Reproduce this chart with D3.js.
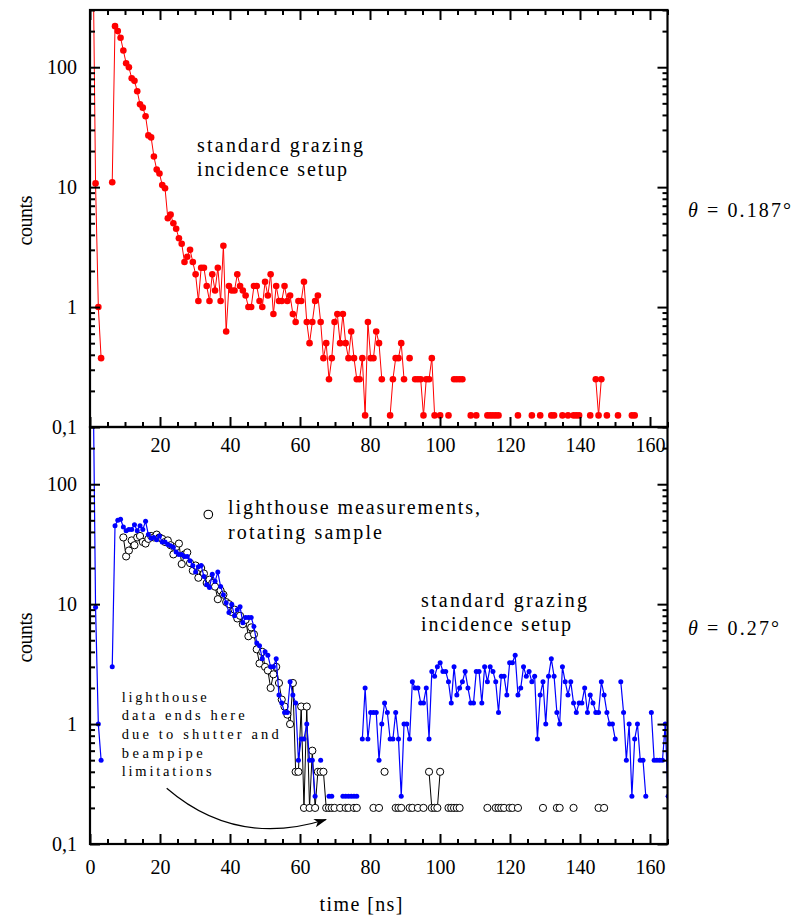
<!DOCTYPE html>
<html>
<head>
<meta charset="utf-8">
<script src="https://cdn.jsdelivr.net/npm/d3@7"></script>
<style>
  body { margin: 0; background: #fff; }
  svg { display: block; }
  text { font-family: "Liberation Serif", Tinos, "Times New Roman", "DejaVu Serif", serif; fill: #000; }
</style>
</head>
<body>
<svg id="chart" width="792" height="918"></svg>
<script>
// ---- data -------------------------------------------------------------
// time channels of the detector (ns per channel); counts per channel, 0 = empty
const binWidth = 0.794;
const timeDomain = [0, 165];
const countDomain = [0.1, 300];

const xTickValues = [0, 20, 40, 60, 80, 100, 120, 140, 160];
const xTickValuesUpper = [20, 40, 60, 80, 100, 120, 140, 160];
const yTickValues = [0.1, 1, 10, 100];
const yTickLabels = ["0,1", "1", "10", "100"];

// theta = 0.187 deg, standard grazing incidence
const redCounts = [
  0, 1500, 10.75, 1, 0.375, 0, 0, 0, 11, 220,
  200, 176, 138, 108, 100, 81, 77, 63, 49, 46,
  39, 27, 26, 18, 14, 13, 10.4, 9.8, 5.5, 5.9,
  5, 4.5, 3.75, 3.375, 2.375, 2.625, 3, 2.375, 1.875, 1.125,
  2.125, 2.125, 1.5, 1.125, 1.875, 1.375, 2.125, 1.125, 3.25, 0.625,
  1.5, 1.375, 1.375, 1.875, 1.5, 1.375, 1.25, 1, 1, 1.5,
  1.5, 1.125, 1, 1.625, 1.25, 1.875, 0.875, 1.5, 1.125, 1.125,
  1.5, 1.125, 1.25, 0.875, 0.75, 1.125, 1.125, 1.625, 0.75, 0.5,
  0.75, 1.125, 1.25, 0.75, 0.375, 0.5, 0.25, 0.375, 0.75, 0.875,
  0.5, 0.875, 0.5, 0.375, 0.625, 0.375, 0.25, 0.25, 0.375, 0.125,
  0.75, 0.375, 0.375, 0.625, 0.5, 0.25, 0, 0, 0.125, 0.25,
  0.375, 0.375, 0.5, 0.25, 0, 0.375, 0, 0.25, 0.25, 0.25,
  0.125, 0.25, 0.25, 0.375, 0.125, 0, 0.125, 0, 0, 0.125,
  0, 0.25, 0.25, 0.25, 0.25, 0, 0, 0.125, 0, 0.125,
  0, 0, 0, 0.125, 0.125, 0.125, 0.125, 0.125, 0, 0,
  0, 0, 0, 0, 0.125, 0, 0, 0, 0, 0.125,
  0, 0, 0.125, 0, 0, 0, 0.125, 0.125, 0, 0,
  0.125, 0, 0.125, 0, 0.125, 0.125, 0.125, 0, 0, 0,
  0.125, 0, 0.25, 0.125, 0.25, 0, 0.125, 0, 0, 0,
  0.125, 0, 0, 0, 0, 0.125, 0.125
];

// theta = 0.27 deg, standard grazing incidence
const blueCounts = [
  0, 1500, 9.4, 1, 0.5, 0, 0, 0, 3, 45,
  50, 51, 44, 41, 42, 42, 46, 41, 45, 42,
  49, 38, 35.5, 36, 34.5, 37, 33, 33, 31.5, 30.75,
  29.75, 27.25, 26, 26, 25, 25, 23, 21, 18.5, 20.5,
  21, 17, 14.5, 13.75, 17.75, 15.5, 18.5, 14, 12, 10.25,
  8.5, 10, 8, 9, 9.5, 7, 7.75, 7.75, 7.75, 6.5,
  4.75, 4.5, 3.5, 4, 3.75, 3, 3, 3.5, 1.75, 1.5,
  1.25, 1.25, 2.25, 1.75, 1.5, 0.5, 0.75, 0.75, 1, 0.5,
  0.5, 0.25, 0, 0.5, 0, 0, 0.25, 0.25, 0, 0,
  0, 0.25, 0.25, 0.25, 0.25, 0.25, 0.25, 0, 0.75, 2,
  0.75, 1.25, 1.25, 1.25, 0.5, 1, 1.5, 1.25, 0.75, 0.75,
  1.25, 0.75, 0.25, 1, 1, 0.75, 2.25, 2, 2, 1.5,
  1.5, 2, 0.75, 2.75, 2.5, 3, 3.25, 2.75, 2.75, 2.25,
  1.5, 3, 1.75, 2, 2.25, 2.75, 2, 1.5, 1.5, 2.75,
  2.75, 1.5, 3, 2.25, 3, 2.75, 2.25, 1.25, 2.5, 2.5,
  1.75, 3.25, 3.25, 3.75, 1.75, 2, 3, 2.5, 2.75, 2.25,
  2.5, 0.75, 1.75, 2.25, 1, 2.5, 3.5, 2.5, 1.25, 1,
  3, 2.25, 1.75, 2.25, 1.5, 1.25, 1.5, 1.5, 2, 1.25,
  1.75, 1.5, 1.25, 1.25, 2.25, 1.75, 1.25, 1, 1, 0.75,
  0, 2.25, 1.25, 0.5, 1, 0.25, 0.75, 1, 0.5, 0.5,
  0.25, 0, 1.25, 0.5, 0.5, 0.5, 0.5, 1, 0.25
];

// theta = 0.27 deg, lighthouse measurement on the rotating sample
const lighthouseCounts = [
  0, 0, 0, 0, 0, 0, 0, 0, 0, 0,
  0, 0, 36, 25, 28, 34, 31, 36, 37, 33,
  32, 35, 37, 36, 38, 36, 35, 33, 34, 31,
  26, 30, 32, 21.6, 26, 27, 22, 19, 21, 16.6,
  20, 18, 15, 16, 15, 14, 11, 13, 12, 10.4,
  10, 8.6, 9, 7.6, 8, 6.8, 7.4, 5.4, 6.4, 5.6,
  4.2, 3.2, 4, 3, 2.8, 2, 2.6, 3, 2.2, 1.6,
  1.4, 1.2, 1, 2.2, 0.4, 0.4, 1.4, 0.2, 1.4, 0.2,
  0.6, 0.2, 0.4, 0.4, 0.4, 0.2, 0.2, 0.2, 0.2, 0,
  0.2, 0, 0.2, 0.2, 0, 0.2, 0.2, 0, 0, 0,
  0, 0, 0.2, 0, 0.2, 0, 0.4, 0, 0, 0,
  0.2, 0.2, 0.2, 0, 0, 0.2, 0.2, 0, 0.2, 0,
  0.2, 0, 0.4, 0.2, 0.2, 0.2, 0.4, 0, 0, 0.2,
  0.2, 0.2, 0.2, 0.2, 0, 0, 0, 0, 0, 0,
  0, 0, 0, 0.2, 0, 0, 0.2, 0.2, 0.2, 0.2,
  0, 0.2, 0.2, 0, 0.2, 0, 0, 0, 0, 0,
  0, 0, 0, 0.2, 0, 0, 0, 0, 0.2, 0.2,
  0, 0, 0, 0, 0.2, 0, 0, 0, 0, 0,
  0, 0, 0, 0.2, 0, 0.2
];

// ---- layout -------------------------------------------------------------
const FONT = '"Liberation Serif", Tinos, "Times New Roman", "DejaVu Serif", serif';
const svg = d3.select("#chart");
const plotLeft = 90, plotRight = 667.5;
const upper = { top: 10, bottom: 427 };
const lower = { top: 427, bottom: 844 };

const x = d3.scaleLinear().domain(timeDomain).range([plotLeft, plotRight]);
const yUpper = d3.scaleLog().domain(countDomain).range([upper.bottom, upper.top]);
const yLower = d3.scaleLog().domain(countDomain).range([lower.bottom, lower.top]);

const toPoints = counts => counts.map((v, i) => ({ t: i * binWidth, v }));
const redPts = toPoints(redCounts);
const bluePts = toPoints(blueCounts);
const lightPts = toPoints(lighthouseCounts);

const defs = svg.append("defs");
function clip(id, p) {
  defs.append("clipPath").attr("id", id)
    .append("rect")
    .attr("x", plotLeft).attr("y", p.top)
    .attr("width", plotRight - plotLeft).attr("height", p.bottom - p.top);
}
clip("clipUpper", upper);
clip("clipLower", lower);

function series(g, pts, y, color, lineWidth) {
  const line = d3.line().defined(d => d.v > 0).x(d => x(d.t)).y(d => y(d.v));
  g.append("path").datum(pts)
    .attr("d", line).attr("fill", "none")
    .attr("stroke", color).attr("stroke-width", lineWidth)
    .attr("stroke-linejoin", "round");
}

// ---- upper panel data ----
const gUp = svg.append("g").attr("clip-path", "url(#clipUpper)");
series(gUp, redPts, yUpper, "#ff0000", 1);
gUp.selectAll("circle.red").data(redPts.filter(d => d.v > 0)).join("circle")
  .attr("class", "red")
  .attr("cx", d => x(d.t)).attr("cy", d => yUpper(d.v)).attr("r", 3.3)
  .attr("fill", "#ff0000");

// ---- lower panel data ----
const gLo = svg.append("g").attr("clip-path", "url(#clipLower)");
series(gLo, lightPts, yLower, "#000", 1);
gLo.selectAll("circle.light").data(lightPts.filter(d => d.v > 0)).join("circle")
  .attr("class", "light")
  .attr("cx", d => x(d.t)).attr("cy", d => yLower(d.v)).attr("r", 3.6)
  .attr("fill", "#fff").attr("stroke", "#000").attr("stroke-width", 1);
series(gLo, bluePts, yLower, "#0000ff", 1.2);
gLo.selectAll("circle.blue").data(bluePts.filter(d => d.v > 0)).join("circle")
  .attr("class", "blue")
  .attr("cx", d => x(d.t)).attr("cy", d => yLower(d.v)).attr("r", 2.5)
  .attr("fill", "#0000ff");

// ---- axes ----
const xMinor = x.ticks(33).filter(v => xTickValues.indexOf(v) < 0);
const yMinor = yUpper.ticks().filter(v => !yTickValues.some(m => Math.abs(m - v) < 1e-9));
const yLabel = d => yTickLabels[yTickValues.findIndex(m => Math.abs(m - d) < 1e-9)];
const MAJ = 10, MIN = 5;

function styleAxis(g, fontSize) {
  g.select(".domain").remove();
  g.selectAll(".tick line").attr("stroke", "#000").attr("stroke-width", 2);
  g.selectAll(".tick text")
    .style("font-family", FONT)
    .style("font-size", fontSize + "px").attr("fill", "#000");
}
function addAxis(gen, transform, fontSize) {
  svg.append("g").attr("transform", transform).call(gen).call(g => styleAxis(g, fontSize || 20));
}

[[yUpper, upper], [yLower, lower]].forEach(([y, p]) => {
  // left
  addAxis(d3.axisLeft(y).tickValues(yTickValues).tickFormat(yLabel)
    .tickSizeInner(-MAJ).tickSizeOuter(0).tickPadding(13), `translate(${plotLeft},0)`);
  addAxis(d3.axisLeft(y).tickValues(yMinor).tickFormat("")
    .tickSizeInner(-MIN).tickSizeOuter(0), `translate(${plotLeft},0)`);
  // right
  addAxis(d3.axisRight(y).tickValues(yTickValues).tickFormat("")
    .tickSizeInner(-MAJ).tickSizeOuter(0), `translate(${plotRight},0)`);
  addAxis(d3.axisRight(y).tickValues(yMinor).tickFormat("")
    .tickSizeInner(-MIN).tickSizeOuter(0), `translate(${plotRight},0)`);
});

// upper panel: top ticks and bottom ticks with labels
addAxis(d3.axisTop(x).tickValues(xTickValues).tickFormat("")
  .tickSizeInner(-MAJ).tickSizeOuter(0), `translate(0,${upper.top})`);
addAxis(d3.axisTop(x).tickValues(xMinor).tickFormat("")
  .tickSizeInner(-MIN).tickSizeOuter(0), `translate(0,${upper.top})`);
addAxis(d3.axisBottom(x).tickValues(xTickValues).tickFormat(d => xTickValuesUpper.includes(d) ? d : "")
  .tickSizeInner(-MAJ).tickSizeOuter(0).tickPadding(11), `translate(0,${upper.bottom})`);
addAxis(d3.axisBottom(x).tickValues(xMinor).tickFormat("")
  .tickSizeInner(-MIN).tickSizeOuter(0), `translate(0,${upper.bottom})`);

// lower panel: bottom ticks with labels
addAxis(d3.axisBottom(x).tickValues(xTickValues).tickFormat(d => d)
  .tickSizeInner(-MAJ).tickSizeOuter(0).tickPadding(16), `translate(0,${lower.bottom})`);
addAxis(d3.axisBottom(x).tickValues(xMinor).tickFormat("")
  .tickSizeInner(-MIN).tickSizeOuter(0), `translate(0,${lower.bottom})`);

// frames
[upper, lower].forEach(p => {
  svg.append("rect")
    .attr("x", plotLeft).attr("y", p.top)
    .attr("width", plotRight - plotLeft).attr("height", p.bottom - p.top)
    .attr("fill", "none").attr("stroke", "#000").attr("stroke-width", 2.2);
});

// ---- text ----
function txt(xp, yp, str, size, len, anchor) {
  const t = svg.append("text").attr("x", xp).attr("y", yp)
    .style("font-family", FONT).style("font-size", size + "px").text(str);
  if (anchor) t.attr("text-anchor", anchor);
  if (len) t.attr("textLength", len).attr("lengthAdjust", "spacing");
  return t;
}

// axis titles
[upper, lower].forEach(p => {
  svg.append("text").attr("transform", `translate(32,${(p.top + p.bottom) / 2 + 2}) rotate(-90)`)
    .attr("text-anchor", "middle").style("font-family", FONT).style("font-size", "20px")
    .attr("textLength", 50).attr("lengthAdjust", "spacing").text("counts");
});
txt(361, 911, "time [ns]", 20, 83, "middle");

// angle labels
function thetaLabel(xp, yp, value, len) {
  const t = svg.append("text").attr("x", xp).attr("y", yp)
    .style("font-family", FONT).style("font-size", "20px")
    .attr("textLength", len).attr("lengthAdjust", "spacing");
  t.append("tspan").style("font-style", "italic").text("θ");
  t.append("tspan").text(" = " + value + "°");
}
thetaLabel(688, 217, "0.187", 103);
thetaLabel(688, 635, "0.27", 91);

// annotations, upper panel
txt(197, 152, "standard grazing", 20, 166);
txt(197, 176, "incidence setup", 20, 150);

// annotations, lower panel
svg.append("circle").attr("cx", 208.3).attr("cy", 514.5).attr("r", 4.3)
  .attr("fill", "#fff").attr("stroke", "#000").attr("stroke-width", 1.1);
txt(228, 514, "lighthouse measurements,", 20, 252);
txt(228, 539, "rotating sample", 20, 154);
txt(421, 607, "standard grazing", 20, 166);
txt(421, 631, "incidence setup", 20, 150);

const note = [
  ["lighthouse", 85],
  ["data ends here", 123],
  ["due to shutter and", 157],
  ["beampipe", 81],
  ["limitations", 90]
];
note.forEach(([s, len], i) => txt(121.7, 701.7 + i * 18.6, s, 14.5, len));

// arrow to the end of the lighthouse data
defs.append("marker").attr("id", "head")
  .attr("viewBox", "0 0 12 8").attr("refX", 11).attr("refY", 4)
  .attr("markerWidth", 13).attr("markerHeight", 9)
  .attr("markerUnits", "userSpaceOnUse").attr("orient", "auto")
  .append("path").attr("d", "M0,0 L12,4 L0,8 L3,4 Z").attr("fill", "#000");
svg.append("path")
  .attr("d", "M166.7,788.3 Q236,848 326,819.5")
  .attr("fill", "none").attr("stroke", "#000").attr("stroke-width", 1.2)
  .attr("marker-end", "url(#head)");
</script>
</body>
</html>
